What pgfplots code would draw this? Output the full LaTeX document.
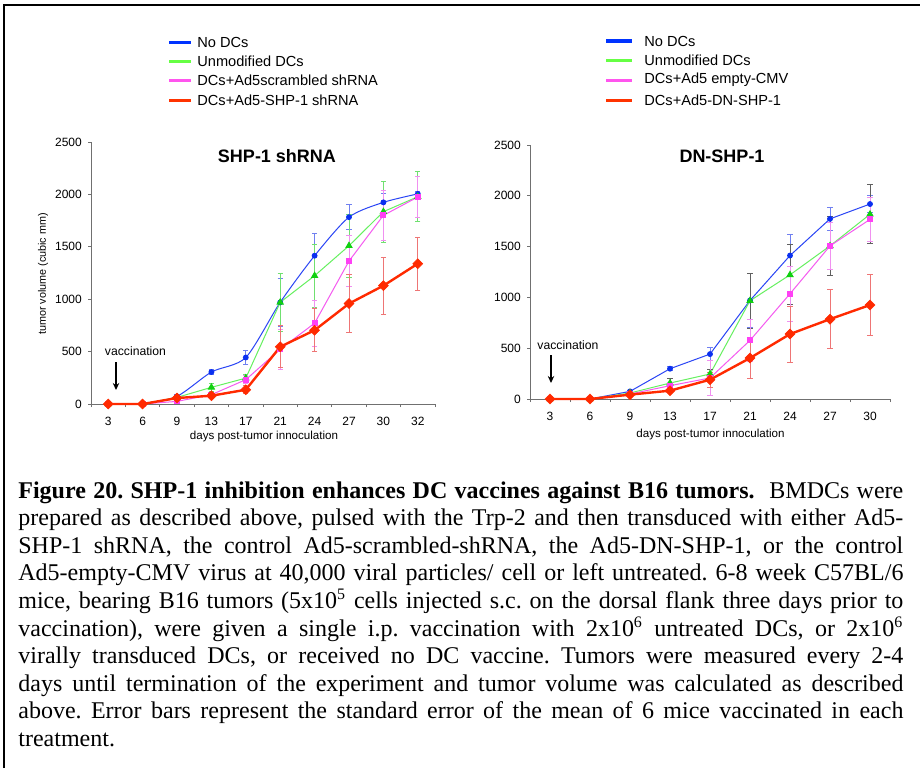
\documentclass[border=0pt]{standalone}
\usepackage{fontspec}
\setmainfont{Liberation Serif}
\newfontfamily\arial{Liberation Sans}
\usepackage{pgfplots}
\pgfplotsset{compat=1.18}
\usetikzlibrary{arrows.meta}
\definecolor{bline}{HTML}{2A45F5}
\definecolor{bmark}{HTML}{0A30F0}
\definecolor{berr}{HTML}{7080F0}
\definecolor{gline}{HTML}{66F060}
\definecolor{gmark}{HTML}{10D010}
\definecolor{gerr}{HTML}{70E070}
\definecolor{mline}{HTML}{F55AF0}
\definecolor{mmark}{HTML}{FF40F5}
\definecolor{merr}{HTML}{F090F0}
\definecolor{rline}{HTML}{FF2A00}
\definecolor{rmark}{HTML}{FF2A00}
\definecolor{rerr}{HTML}{EE7575}
\definecolor{darkerr}{HTML}{606060}
\definecolor{axgray}{HTML}{707070}
\definecolor{lgblue}{HTML}{0033FF}
\definecolor{lggreen}{HTML}{66FF44}
\definecolor{lgmag}{HTML}{FF55EE}
\definecolor{lgred}{HTML}{FF3300}
\pgfplotsset{
  panel/.style={
    scale only axis, clip=false,
    axis x line*=bottom, axis y line*=left,
    axis line style={axgray, line width=0.5pt},
    ymin=0, ymax=2500, ytick={0,500,...,2500},
    tick align=outside, ytick pos=left, xtick pos=bottom,
    major tick length=1.4pt, minor tick length=1.6pt,
    major x tick style={draw=none},
    every tick/.style={axgray, line width=0.5pt},
    every minor tick/.style={axgray, line width=0.5pt},
    /pgf/number format/assume math mode=true,
    /pgf/number format/1000 sep={},
    ticklabel style={font=\arial\fontsize{6}{7}\selectfont},
    yticklabel style={anchor=east, inner sep=0pt, xshift=-3pt},
    xticklabel style={anchor=center, inner sep=0pt, yshift=-7.5pt},
  },
  eb/.style={error bars/.cd, y dir=both, y explicit,
    error bar style={line width=0.5pt, #1},
    error mark options={rotate=90, line width=0.5pt, #1, mark size=1.3pt}},
  sB/.style={bline, line width=0.5pt, mark=*, mark size=1.2pt, mark options={bmark, fill=bmark}},
  sG/.style={gline, line width=0.5pt, mark=triangle*, mark size=1.7pt, mark options={gmark, fill=gmark}},
  sM/.style={mline, line width=0.5pt, mark=square*, mark size=1.25pt, mark options={mmark, fill=mmark}},
  sR/.style={rline, line width=1.2pt, mark=square*, mark size=1.75pt, mark options={rmark, fill=rmark, rotate=45, line width=0.3pt}},
}
\begin{document}
\begin{tikzpicture}
\useasboundingbox (0,0) rectangle (460pt,384pt);
\fill[white] (0,0) rectangle (460pt,384pt);
\draw[line width=1pt, black] (1.75pt,0) -- (1.75pt,381.5pt) -- (460pt,381.5pt);

% ---------- left panel: SHP-1 shRNA
\begin{axis}[panel, at={(45.5pt,182pt)}, anchor=south west,
  width=172pt, height=131pt,
  xmin=-0.5, xmax=9.5, xtick={0,...,9},
  xticklabels={3,6,9,13,17,21,24,27,30,32},
  minor xtick={-0.5,0.5,...,9.5}]
\addplot+[sB, smooth, tension=0.45, eb=berr] coordinates {
 (0,0) +- (0,0) (1,0) +- (0,0) (2,73) +- (0,15) (3,305) +- (0,22) (4,444) +- (0,65)
 (5,970) +- (0,230) (6,1415) +- (0,210) (7,1783) +- (0,120) (8,1924) +- (0,85) (9,2005) +- (0,25)};
\addplot+[sG, eb=gerr] coordinates {
 (0,0) +- (0,0) (1,0) +- (0,0) (2,63) +- (0,10) (3,159) +- (0,40) (4,247) +- (0,35)
 (5,970) +- (0,275) (6,1224) +- (0,300) (7,1510) +- (0,300) (8,1835) +- (0,290) (9,1978) +- (0,240)};
\addplot+[sM, eb=merr] coordinates {
 (0,0) +- (0,0) (1,0) +- (0,0) (2,25) +- (0,5) (3,89) +- (0,15) (4,232) +- (0,40)
 (5,523) +- (0,190) (6,771) +- (0,220) (7,1364) +- (0,240) (8,1800) +- (0,240) (9,1975) +- (0,200)};
\addplot+[sR, eb=rerr] coordinates {
 (0,0) +- (0,0) (1,0) +- (0,0) (2,57) +- (0,20) (3,79) +- (0,20) (4,136) +- (0,40)
 (5,546) +- (0,200) (6,704) +- (0,205) (7,958) +- (0,280) (8,1129) +- (0,272) (9,1339) +- (0,252)};
\end{axis}

% ---------- right panel: DN-SHP-1
\begin{axis}[panel, at={(265pt,184.5pt)}, anchor=south west,
  width=180pt, height=127pt,
  xmin=-0.5, xmax=8.5, xtick={0,...,8},
  xticklabels={3,6,9,13,17,21,24,27,30},
  minor xtick={-0.5,0.5,...,8.5}]
\addplot+[sB, eb=berr] coordinates {
 (0,0) +- (0,0) (1,0) +- (0,0) (2,75) +- (0,10) (3,298) +- (0,20) (4,442) +- (0,65)
 (5,970) +- (0,270) (6,1412) +- (0,210) (7,1773) +- (0,115) (8,1919) +- (0,80)};
\addplot+[sG, eb=darkerr] coordinates {
 (0,0) +- (0,0) (1,0) +- (0,0) (2,59) +- (0,10) (3,157) +- (0,40) (4,246) +- (0,40)
 (5,967) +- (0,270) (6,1222) +- (0,295) (7,1507) +- (0,290) (8,1818) +- (0,290)};
\addplot+[sM, eb=merr] coordinates {
 (0,0) +- (0,0) (1,0) +- (0,0) (2,49) +- (0,10) (3,131) +- (0,30) (4,207) +- (0,170)
 (5,577) +- (0,210) (6,1036) +- (0,270) (7,1507) +- (0,230) (8,1768) +- (0,220)};
\addplot+[sR, eb=rerr] coordinates {
 (0,0) +- (0,0) (1,0) +- (0,0) (2,43) +- (0,10) (3,82) +- (0,15) (4,190) +- (0,75)
 (5,403) +- (0,206) (6,639) +- (0,275) (7,786) +- (0,290) (8,925) +- (0,300)};
\end{axis}

% ---------- panel titles and labels
\node[font=\arial\bfseries\fontsize{9}{10}\selectfont] at (138.5pt,306pt) {SHP-1 shRNA};
\node[font=\arial\bfseries\fontsize{9}{10}\selectfont] at (361pt,306pt) {DN-SHP-1};
\node[font=\arial\fontsize{6.1}{7}\selectfont, inner sep=0pt] at (67.75pt,208.5pt) {vaccination};
\draw[-{Stealth[length=3.5pt,width=3.2pt]}, line width=0.55pt] (58pt,203pt) -- (58pt,189pt);
\node[font=\arial\fontsize{6.1}{7}\selectfont, inner sep=0pt] at (284pt,211.5pt) {vaccination};
\draw[-{Stealth[length=3.5pt,width=3.2pt]}, line width=0.55pt] (275.5pt,206.5pt) -- (275.5pt,192.5pt);
\node[font=\arial\fontsize{5.8}{7}\selectfont, inner sep=0pt] at (132pt,166pt) {days post-tumor innoculation};
\node[font=\arial\fontsize{5.8}{7}\selectfont, inner sep=0pt] at (355.25pt,167pt) {days post-tumor innoculation};
\node[font=\arial\fontsize{5.4}{7}\selectfont, inner sep=0pt, rotate=90] at (21.5pt,247pt) {tumor volume (cubic mm)};

% ---------- legends
\begin{scope}[every node/.style={font=\arial\fontsize{7.3}{8}\selectfont, anchor=west, inner sep=0pt}]
\draw[lgblue, line width=1.5pt] (84.5pt,363pt) -- (95.5pt,363pt);
\node at (98.5pt,363pt) {No DCs};
\draw[lggreen, line width=1.5pt] (84.5pt,353.5pt) -- (95.5pt,353.5pt);
\node at (98.5pt,353.5pt) {Unmodified DCs};
\draw[lgmag, line width=1.5pt] (84.5pt,344pt) -- (95.5pt,344pt);
\node at (98.5pt,344pt) {DCs+Ad5scrambled shRNA};
\draw[lgred, line width=1.5pt] (84.5pt,334pt) -- (95.5pt,334pt);
\node at (98.5pt,334pt) {DCs+Ad5-SHP-1 shRNA};
\draw[lgblue, line width=1.5pt] (303pt,363.5pt) -- (316pt,363.5pt);
\node at (322pt,363.5pt) {No DCs};
\draw[lggreen, line width=1.5pt] (303pt,354pt) -- (316pt,354pt);
\node at (322pt,354pt) {Unmodified DCs};
\draw[lgmag, line width=1.5pt] (303pt,344pt) -- (316pt,344pt);
\node at (322pt,344pt) {DCs+Ad5 empty-CMV};
\draw[lgred, line width=1.5pt] (303pt,334pt) -- (316pt,334pt);
\node at (322pt,334pt) {DCs+Ad5-DN-SHP-1};
\end{scope}

% ---------- caption
\node[anchor=base west, inner sep=0pt] at (9pt,135pt) {\parbox[t]{442.5pt}{\fontsize{12}{13.8}\selectfont\frenchspacing\setlength{\parindent}{0pt}%
\makebox[442.5pt][s]{\textbf{Figure 20. SHP-1 inhibition enhances DC vaccines against B16 tumors.}\ \ BMDCs were}\\
\makebox[442.5pt][s]{prepared as described above, pulsed with the Trp-2 and then transduced with either Ad5-}\\
\makebox[442.5pt][s]{SHP-1 shRNA, the control Ad5-scrambled-shRNA, the Ad5-DN-SHP-1, or the control}\\
\makebox[442.5pt][s]{Ad5-empty-CMV virus at 40,000 viral particles/ cell or left untreated. 6-8 week C57BL/6}\\
\makebox[442.5pt][s]{mice, bearing B16 tumors (5x10\textsuperscript{5} cells injected s.c. on the dorsal flank three days prior to}\\
\makebox[442.5pt][s]{vaccination), were given a single i.p. vaccination with 2x10\textsuperscript{6} untreated DCs, or 2x10\textsuperscript{6}}\\
\makebox[442.5pt][s]{virally transduced DCs, or received no DC vaccine. Tumors were measured every 2-4}\\
\makebox[442.5pt][s]{days until termination of the experiment and tumor volume was calculated as described}\\
\makebox[442.5pt][s]{above. Error bars represent the standard error of the mean of 6 mice vaccinated in each}\\
treatment.}};
\end{tikzpicture}
\end{document}
